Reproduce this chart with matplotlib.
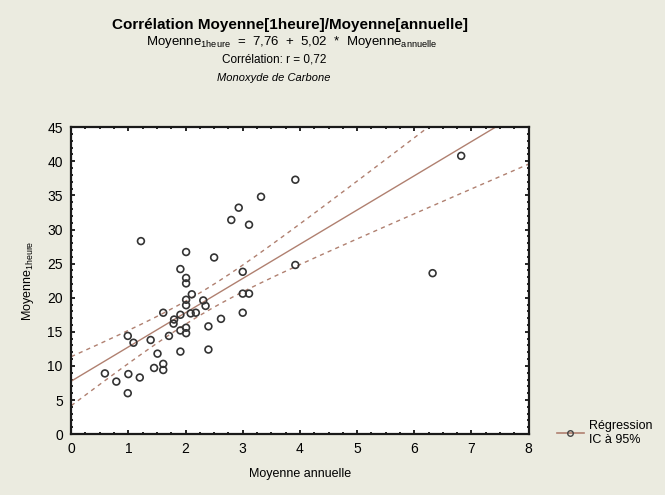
import matplotlib.pyplot as plt
from matplotlib.lines import Line2D
import numpy as np

plt.rcParams['font.family'] = ['Liberation Sans', 'DejaVu Sans']
plt.rcParams['mathtext.fontset'] = 'custom'
plt.rcParams['mathtext.rm'] = 'Liberation Sans'

# annual mean vs 1-hour mean (CO)
moy_annuelle = [0.59, 0.79, 0.99, 1.00, 0.99, 1.09, 1.20, 1.22, 1.39, 1.45,
                1.51, 1.61, 1.61, 1.61, 1.71, 1.79, 1.80, 1.91, 1.91, 1.91,
                1.91, 2.01, 2.01, 2.01, 2.01, 2.01, 2.01, 2.01, 2.09, 2.11,
                2.18, 2.31, 2.35, 2.40, 2.40, 2.50, 2.62, 2.80, 2.93, 3.00,
                3.00, 3.00, 3.11, 3.11, 3.32, 3.92, 3.92, 6.32, 6.82]
moy_1heure = [8.9, 7.7, 6.0, 8.8, 14.4, 13.4, 8.3, 28.3, 13.8, 9.7,
              11.8, 10.3, 9.4, 17.8, 14.4, 16.2, 16.8, 12.1, 15.2, 17.5,
              24.2, 14.8, 15.6, 18.9, 19.7, 22.1, 22.9, 26.7, 17.7, 20.5,
              17.8, 19.6, 18.8, 12.4, 15.8, 25.9, 16.9, 31.4, 33.2, 23.8,
              20.6, 17.8, 20.6, 30.7, 34.8, 37.3, 24.8, 23.6, 40.8]
a0, a1 = 7.76, 5.02
r = 0.72

def fr(v):
    return f'{v:.2f}'.replace('.', ',')

x = np.array(moy_annuelle)
y = np.array(moy_1heure)
n = len(x)
res = y - (a0 + a1 * x)
s = np.sqrt(np.sum(res**2) / (n - 2))
sxx = np.sum((x - x.mean())**2)
xx = np.linspace(0, 8, 200)
yy = a0 + a1 * xx
half = 2.01 * s * np.sqrt(1 / n + (xx - x.mean())**2 / sxx)

bg = '#ebebe0'
col = '#b08070'
fig = plt.figure(figsize=(6.65, 4.95), dpi=100, facecolor=bg)
ax = fig.add_axes([0.107, 0.123, 0.688, 0.62])
ax.set_facecolor('white')

ax.plot(xx, yy, color=col, lw=1)
ax.plot(xx, yy + half, color=col, lw=1, ls=(0, (3, 3)))
ax.plot(xx, yy - half, color=col, lw=1, ls=(0, (3, 3)))
ax.scatter(x, y, s=24, facecolors='none', edgecolors='#333333', linewidths=1.2, zorder=3)

ax.set_xlim(0, 8)
ax.set_ylim(0, 45)
ax.set_xticks(range(0, 9))
ax.set_yticks(range(0, 46, 5))
ax.set_xticks(np.arange(0, 8.01, 0.25), minor=True)
ax.set_yticks(range(0, 46), minor=True)
ax.tick_params(which='both', direction='in', top=True, right=True, width=1.2)
ax.tick_params(which='major', length=3, labelsize=10, pad=6)
ax.tick_params(which='minor', length=1.5)
for sp in ax.spines.values():
    sp.set_linewidth(1.6)
    sp.set_color('#1a1a1a')

ax.set_xlabel('Moyenne annuelle', fontsize=9, labelpad=8)
ax.set_ylabel(r'Moyenne$_{\mathrm{1heure}}$', fontsize=9, labelpad=8)

fig.text(0.436, 0.949, 'Corrélation Moyenne[1heure]/Moyenne[annuelle]',
         ha='center', va='center', fontsize=11, fontweight='bold')
fig.text(0.439, 0.915,
         r'Moyenne$_{\mathrm{1heure}}$  =  ' + fr(a0) + '  +  ' + fr(a1)
         + r'  *  Moyenne$_{\mathrm{annuelle}}$',
         ha='center', va='center', fontsize=9.5)
fig.text(0.412, 0.879, 'Corrélation: r = ' + fr(r),
         ha='center', va='center', fontsize=8.5)
fig.text(0.411, 0.843, 'Monoxyde de Carbone', ha='center', va='center',
         fontsize=8, style='italic')

h = Line2D([], [], color=col, lw=1.2, marker='o', mfc='none', mec='#444444', ms=4)
fig.legend([h], ['Régression\nIC à 95%'], loc='center left',
           bbox_to_anchor=(0.82, 0.125), frameon=False, fontsize=9,
           handlelength=2.2, handletextpad=0.4)

fig.savefig('out.png', dpi=100, facecolor=bg)
